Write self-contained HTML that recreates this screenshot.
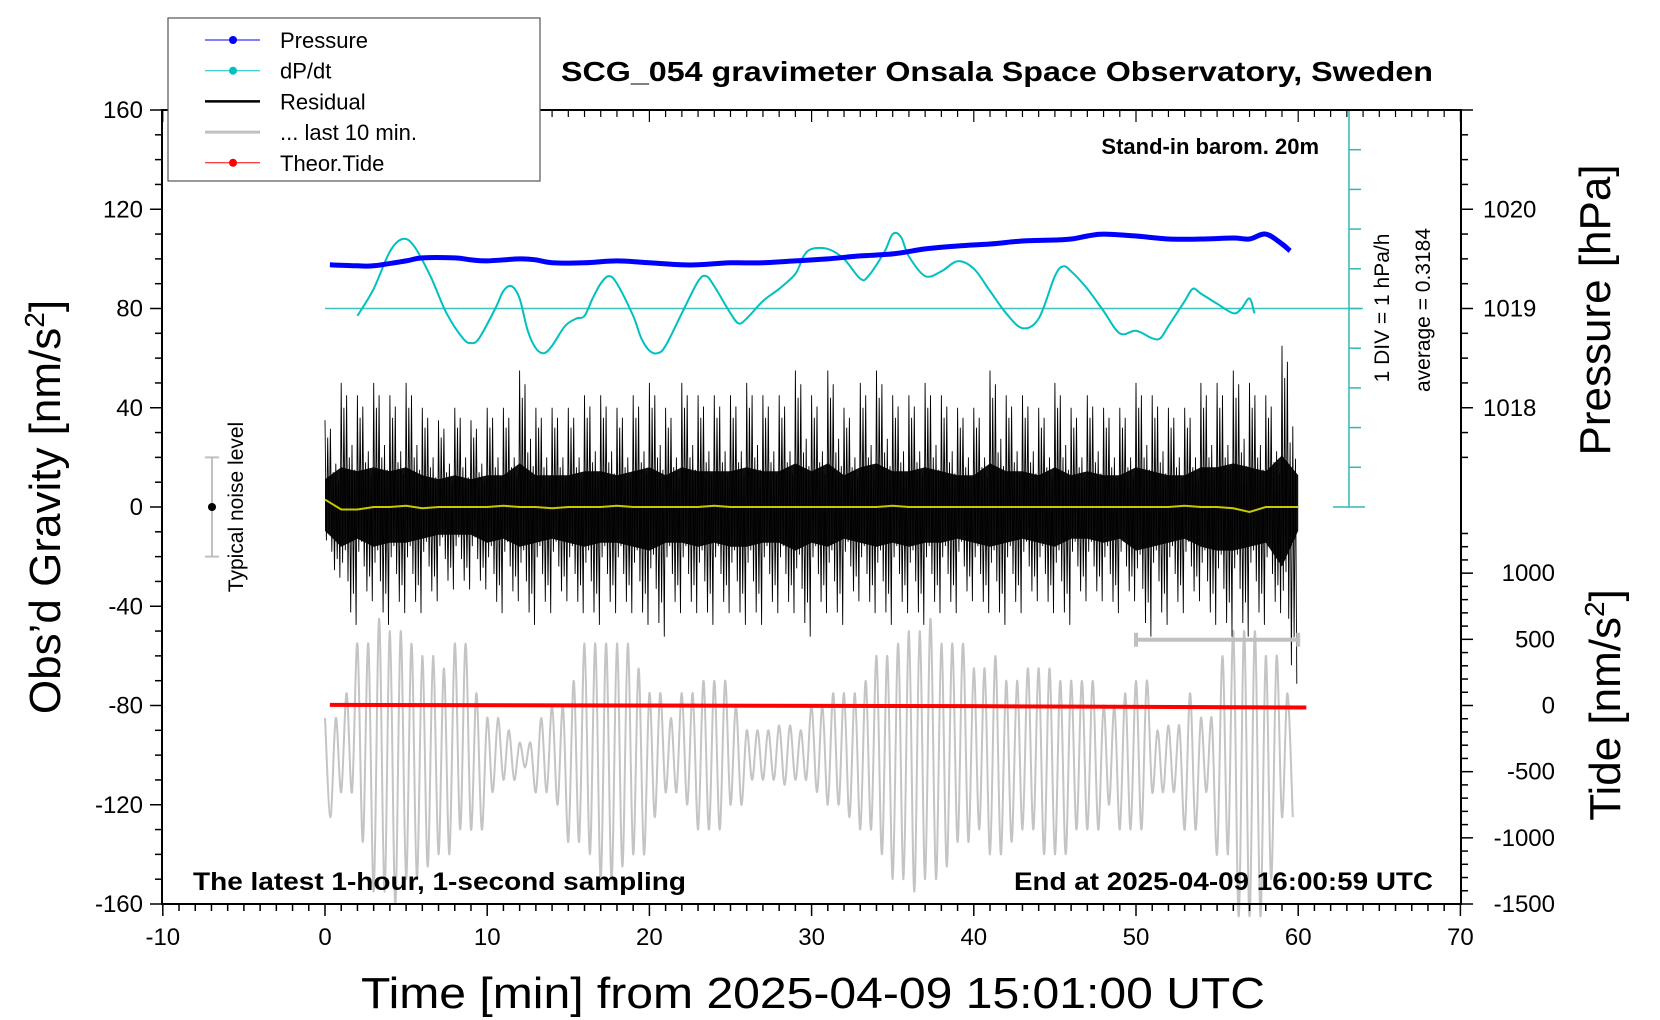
<!DOCTYPE html>
<html><head><meta charset="utf-8"><style>
html,body{margin:0;padding:0;background:#fff;}
svg{display:block;font-family:"Liberation Sans",sans-serif;}
</style></head><body>
<svg id="chart" width="1660" height="1020" viewBox="0 0 1660 1020" xmlns="http://www.w3.org/2000/svg">
<g id="plot"></g>
</svg>
<script>
// ---- data ----
const pressT = [0.3,2,3,5,6,8,9,10,12,13,14,16,18,20,22,23,25,27,29,31,33,35,37,39,41,43,45,46,47,48,50,52,54,56,57,58,59,59.5];
const pressHPa = [1019.44,1019.43,1019.43,1019.48,1019.51,1019.51,1019.49,1019.48,1019.5,1019.49,1019.46,1019.46,1019.48,1019.46,1019.44,1019.44,1019.46,1019.46,1019.48,1019.5,1019.53,1019.55,1019.6,1019.63,1019.65,1019.68,1019.69,1019.7,1019.73,1019.75,1019.73,1019.7,1019.7,1019.71,1019.7,1019.75,1019.65,1019.58];
const dpT = [2,3,4,4.8,5.5,6.5,7.5,8.5,9,9.5,10.5,11,11.5,12,12.5,13,13.5,14,14.8,15.5,16,16.5,17,17.5,18,19,19.5,20,20.5,21,22,23,23.5,24,25,25.5,26,27,28,29,29.5,30,31,32,33,33.5,34.5,35,35.5,36,37,38,39,40,41,42,43,44,45,45.5,46,47,48,49,50,51,51.5,52,53,53.5,54,55,56,56.5,57,57.3];
const dpVal = [-0.2,0.53,1.53,1.87,1.67,0.87,-0.13,-0.8,-0.93,-0.8,0,0.47,0.6,0.27,-0.6,-1.07,-1.2,-1,-0.47,-0.27,-0.2,0.27,0.67,0.87,0.67,-0.2,-0.8,-1.13,-1.2,-1,-0.13,0.73,0.87,0.6,-0.13,-0.4,-0.27,0.2,0.53,0.93,1.4,1.6,1.6,1.33,0.8,0.87,1.53,2,1.93,1.4,0.87,1,1.27,1.07,0.47,-0.13,-0.53,-0.27,0.87,1.13,1,0.53,-0.07,-0.67,-0.6,-0.8,-0.8,-0.47,0.2,0.53,0.4,0.13,-0.13,0,0.27,-0.13];
const resMin = [0,1,2,3,4,5,6,7,8,9,10,11,12,13,14,15,16,17,18,19,20,21,22,23,24,25,26,27,28,29,30,31,32,33,34,35,36,37,38,39,40,41,42,43,44,45,46,47,48,49,50,51,52,53,54,55,56,57,58,59,60];
const resUpper = [35,50,45,50,45,50,40,35,40,35,40,40,55,40,40,40,45,45,40,45,50,40,50,45,45,45,50,45,45,55,45,55,40,50,55,45,45,50,45,40,40,55,45,45,40,50,40,45,40,40,50,45,40,40,50,50,55,50,45,65,40];
const resLower = [-30,-50,-40,-50,-45,-45,-40,-35,-35,-35,-45,-40,-50,-45,-40,-45,-50,-45,-45,-50,-55,-45,-45,-50,-45,-50,-50,-45,-45,-55,-45,-50,-40,-45,-50,-45,-50,-45,-45,-40,-45,-50,-45,-40,-45,-50,-40,-40,-45,-40,-55,-50,-45,-40,-50,-55,-55,-50,-45,-75,-30];
const yellowVal = [3,-1,-1,0,0,0.5,-0.5,0,0,0,0,0.5,0,0,-0.5,0,0,0,0.5,0,0,0,0,0,0.5,0,0,0,0,0,0,0,0,0,0,0.5,0,0,0,0,0,0,0,0,0,0,0,0,0,0,0,0,0,0.5,0,0,-0.5,-2,0,0,0];
const grayUpper = [-85,-75,-55,-45,-50,-55,-60,-65,-55,-75,-85,-90,-95,-85,-80,-70,-55,-55,-55,-65,-75,-85,-75,-70,-70,-80,-90,-90,-88,-90,-80,-75,-75,-70,-60,-55,-50,-45,-55,-55,-65,-60,-70,-65,-65,-70,-70,-70,-80,-75,-70,-90,-88,-75,-85,-60,-50,-50,-60,-75,-75];
const grayLower = [-125,-115,-135,-155,-160,-150,-145,-140,-130,-130,-115,-110,-105,-115,-120,-135,-140,-150,-145,-140,-125,-115,-120,-130,-130,-120,-110,-110,-112,-110,-115,-120,-125,-130,-140,-150,-155,-150,-145,-135,-130,-140,-135,-130,-140,-140,-130,-130,-120,-130,-130,-115,-115,-130,-115,-140,-165,-165,-150,-125,-85];
const tideT = [0.3,20,40,60.5];
const tideVal = [5,0,-5,-15];
const xTicks = [-10,0,10,20,30,40,50,60,70];
const yTicks = [160,120,80,40,0,-40,-80,-120,-160];
const pTicks = [1020,1019,1018];
const tideTicks = [1000,500,0,-500,-1000,-1500];

// ---- scales ----
const L=162,R=1461,T=110,B=904;
const X=t=>325+16.22*t;
const Y=g=>T+(160-g)*(B-T)/320;
const YP=p=>Y(80+40*(p-1019));
const YT=v=>Y(-80+v*80/1500);
const YD=d=>Y(80+15*d);
const NS='http://www.w3.org/2000/svg';
const g0=document.getElementById('plot');
function mk(tag,attrs,parent){const e=document.createElementNS(NS,tag);for(const k in attrs)e.setAttribute(k,attrs[k]);(parent||g0).appendChild(e);return e;}
function txt(s,attrs){const e=mk('text',attrs);e.textContent=s;return e;}
function smooth(pts){let d='M'+pts[0][0].toFixed(1)+','+pts[0][1].toFixed(1);
for(let i=0;i<pts.length-1;i++){const p0=pts[Math.max(0,i-1)],p1=pts[i],p2=pts[i+1],p3=pts[Math.min(pts.length-1,i+2)];
const c1=[p1[0]+(p2[0]-p0[0])/6,p1[1]+(p2[1]-p0[1])/6],c2=[p2[0]-(p3[0]-p1[0])/6,p2[1]-(p3[1]-p1[1])/6];
d+=' C'+c1[0].toFixed(1)+','+c1[1].toFixed(1)+' '+c2[0].toFixed(1)+','+c2[1].toFixed(1)+' '+p2[0].toFixed(1)+','+p2[1].toFixed(1);}return d;}

// gray last 10 min (smoothed oscillation between envelopes, 3 extremes per minute)
let gp=[];
for(let i=0;i<resMin.length-1;i++){for(let k=0;k<3;k++){const t=resMin[i]+k/3;const v=(k%2===0)===(i%2===0)?grayUpper[i]:grayLower[i];gp.push([X(t),Y(v)]);}}
let gl=mk('path',{d:smooth(gp),fill:'none',stroke:'#c4c4c4','stroke-width':2});



// residual: core band + dense zigzag
let core=[];
for(let i=0;i<resMin.length;i++)core.push(X(resMin[i])+','+Y(resUpper[i]*0.32));
for(let i=resMin.length-1;i>=0;i--)core.push(X(resMin[i])+','+Y(resLower[i]*0.32));
let cb=mk('polygon',{points:core.join(' '),fill:'#111'});


let zp=[];
for(let i=0;i<resMin.length-1;i++){for(let k=0;k<12;k++){const t=resMin[i]+k/12;const f=[1,0.45,0.8,0.35,0.9,0.6,0.4,0.85,0.5,0.7,0.3,0.95][k];const v=k%2===0?resUpper[i]*f:resLower[i]*f;zp.push(X(t).toFixed(1)+','+Y(v).toFixed(1));}}
let rz=mk('polyline',{points:zp.join(' '),fill:'none',stroke:'#000','stroke-width':0.9});



// yellow
let yl=mk('polyline',{points:resMin.map((t,i)=>X(t)+','+Y(yellowVal[i])).join(' '),fill:'none',stroke:'#c8c800','stroke-width':2});



// tide
let tl=mk('polyline',{points:tideT.map((t,i)=>X(t)+','+YT(tideVal[i])).join(' '),fill:'none',stroke:'#ff0000','stroke-width':4});



// dP/dt baseline + curve
let bl=mk('line',{x1:X(0),x2:1363,y1:YD(0),y2:YD(0),stroke:'#40c0c0','stroke-width':1.5});


let dl=mk('path',{d:smooth(dpT.map((t,i)=>[X(t),YD(dpVal[i])])),fill:'none',stroke:'#00c0c0','stroke-width':2});



// pressure
let pl=mk('path',{d:smooth(pressT.map((t,i)=>[X(t),YP(pressHPa[i])])),fill:'none',stroke:'#0000ff','stroke-width':5});



// last 10 min bar
mk('line',{x1:X(50),x2:X(60),y1:Y(-53.5),y2:Y(-53.5),stroke:'#c0c0c0','stroke-width':4,});
mk('line',{x1:X(50),x2:X(50),y1:Y(-53.5)-7,y2:Y(-53.5)+7,stroke:'#c0c0c0','stroke-width':4});
mk('line',{x1:X(60),x2:X(60),y1:Y(-53.5)-7,y2:Y(-53.5)+7,stroke:'#c0c0c0','stroke-width':4});

// noise level
mk('line',{x1:212,x2:212,y1:Y(20),y2:Y(-20),stroke:'#c0c0c0','stroke-width':2,});
mk('line',{x1:205,x2:219,y1:Y(20),y2:Y(20),stroke:'#c0c0c0','stroke-width':2});
mk('line',{x1:205,x2:219,y1:Y(-20),y2:Y(-20),stroke:'#c0c0c0','stroke-width':2});
mk('circle',{cx:212,cy:Y(0),r:4,fill:'#000'});
txt('Typical noise level',{x:0,y:0,transform:`translate(243,${Y(0)}) rotate(-90)`,'text-anchor':'middle','font-size':21,});

// dP/dt axis
mk('line',{x1:1349,x2:1349,y1:T,y2:Y(0),stroke:'#30b8b8','stroke-width':1.5,});
for(let k=0;k<=10;k++){const y=Y(k*16);const long=(k===0||k===10);mk('line',{x1:long?1333:1349,x2:long?1365:1361,y1:y,y2:y,stroke:'#30b8b8','stroke-width':1.5});}
txt('1 DIV = 1 hPa/h',{x:0,y:0,transform:'translate(1389,308) rotate(-90)','text-anchor':'middle','font-size':21,});
txt('average = 0.3184',{x:0,y:0,transform:'translate(1430,310) rotate(-90)','text-anchor':'middle','font-size':21,});

// frame
mk('rect',{x:L,y:T,width:R-L,height:B-T,fill:'none',stroke:'#000','stroke-width':2,});
for(let t=-10;t<=70;t++){const x=X(t);const maj=t%10===0;mk('line',{x1:x,x2:x,y1:B,y2:B+(maj?12:7),stroke:'#000','stroke-width':1.5});mk('line',{x1:x,x2:x,y1:T,y2:T+(maj?12:7),stroke:'#000','stroke-width':1.2});}
xTicks.forEach(t=>{txt(String(t),{x:X(t),y:945,'text-anchor':'middle','font-size':24,});});
for(let v=-160;v<=160;v+=10){const y=Y(v);const maj=v%40===0;mk('line',{x1:L-(maj?12:7),x2:L,y1:y,y2:y,stroke:'#000','stroke-width':1.5});}
yTicks.forEach(v=>{txt(String(v),{x:143,y:Y(v)+8,'text-anchor':'end','font-size':24,});});
for(let p=1017.5;p<=1021.01;p+=0.25){const y=YP(p);const maj=Math.abs(p-Math.round(p))<0.01;mk('line',{x1:R,x2:R+(maj?12:7),y1:y,y2:y,stroke:'#000','stroke-width':1.5});}
pTicks.forEach(p=>{txt(String(p),{x:1483,y:YP(p)+8,'text-anchor':'start','font-size':24,});});
for(let v=-1500;v<=1300;v+=100){const y=YT(v);const maj=v%500===0;mk('line',{x1:R,x2:R+(maj?12:7),y1:y,y2:y,stroke:'#000','stroke-width':1.5});}
tideTicks.forEach(v=>{txt(String(v),{x:1555,y:YT(v)+8,'text-anchor':'end','font-size':24,});});

// titles
txt('SCG_054 gravimeter Onsala Space Observatory, Sweden',{x:997,y:81,'text-anchor':'middle','font-size':28,'font-weight':'bold',textLength:872,lengthAdjust:'spacingAndGlyphs',});
txt('Time [min] from 2025-04-09 15:01:00 UTC',{x:813,y:1008,'text-anchor':'middle','font-size':44,textLength:904,lengthAdjust:'spacingAndGlyphs',});
const yt=txt('',{x:0,y:0,transform:'translate(60,507) rotate(-90)','text-anchor':'middle','font-size':44,});
yt.innerHTML='Obs’d Gravity [nm/s<tspan dy="-16" font-size="28">2</tspan><tspan dy="16">]</tspan>';
txt('Pressure [hPa]',{x:0,y:0,transform:'translate(1610,310) rotate(-90)','text-anchor':'middle','font-size':44,});
const tt=txt('',{x:0,y:0,transform:'translate(1620,705) rotate(-90)','text-anchor':'middle','font-size':44,});
tt.innerHTML='Tide [nm/s<tspan dy="-16" font-size="28">2</tspan><tspan dy="16">]</tspan>';
txt('Stand-in barom. 20m',{x:1319,y:154,'text-anchor':'end','font-size':22,'font-weight':'bold',});
txt('The latest 1-hour, 1-second sampling',{x:193,y:890,'font-size':25,'font-weight':'bold',textLength:493,lengthAdjust:'spacingAndGlyphs',});
txt('End at 2025-04-09 16:00:59 UTC',{x:1433,y:890,'text-anchor':'end','font-size':25,'font-weight':'bold',textLength:419,lengthAdjust:'spacingAndGlyphs',});

// legend
const lg=mk('g',{});
mk('rect',{x:168,y:18,width:372,height:163,fill:'#fff',stroke:'#555','stroke-width':1.2},lg);
const legNames=['Pressure','dP/dt','Residual','... last 10 min.','Theor.Tide'];
const legCols=['#0000ff','#00c0c0','#000','#c0c0c0','#ff0000'];
const legW=[1,1,2.5,3,1];
const legDot=[true,true,false,false,true];
legNames.forEach((n,i)=>{const y=40+i*30.7;const e=mk('g',{},lg);


mk('line',{x1:205,x2:260,y1:y,y2:y,stroke:legCols[i],'stroke-width':legW[i]},e);
if(legDot[i])mk('circle',{cx:233,cy:y,r:4,fill:legCols[i]},e);
const t=mk('text',{x:280,y:y+8,'font-size':22},e);t.textContent=n;});
</script>
</body></html>
